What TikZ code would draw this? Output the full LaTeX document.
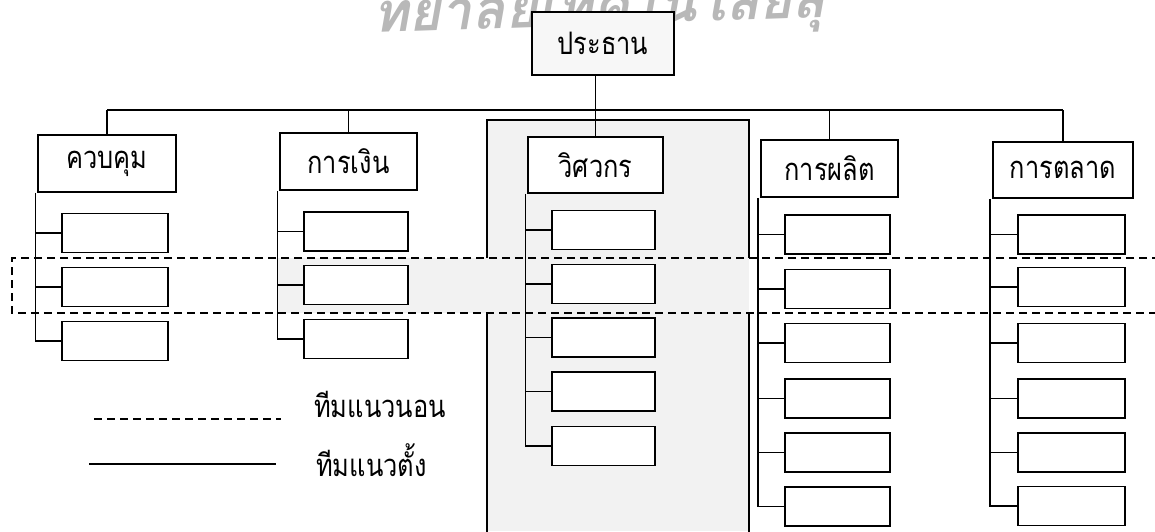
\documentclass[tikz,border=0pt]{standalone}
\usepackage{fontspec}
\newfontfamily\thaifont[Script=Thai, FakeStretch=0.82]{Loma}
\newfontfamily\wmfont[Script=Thai]{Loma}
\newcommand\thlabel{\thaifont\fontsize{31}{34}\selectfont}
\begin{document}
\begin{tikzpicture}[x=1pt,y=-1pt,
  headbox/.style={draw, line width=1.8pt, fill=white, inner sep=0pt, minimum height=57pt, font=\thlabel},
  subbox/.style={draw, line width=1.8pt, fill=white, inner sep=0pt, minimum height=39pt},
  link/.style={line width=1.4pt},
  vteam/.style={line width=1.5pt},
  hteam/.style={line width=1.3pt, dash pattern=on 8pt off 5pt},
  shade/.style={fill=black!5},
  legendtext/.style={font=\thlabel, anchor=base west, inner sep=0pt}]
\useasboundingbox (0,0) rectangle (1155,531);
% watermark
\begin{scope}
\clip (0,0) rectangle (1155,531);
\node[anchor=base west, inner sep=0pt, rotate=2, text=black!28, font=\wmfont\bfseries\itshape\fontsize{55}{60}\selectfont] (wm) at (373,33) {ทยาลัยเทคโนโลยีสุ};
\end{scope}
% shaded team areas
\fill[shade] (487,120) rectangle (749,531);
\fill[shade] (277,258) rectangle (487,313);
% vertical team frame
\draw[vteam] (487,258) -- (487,120) -- (749,120) -- (749,258);
\draw[vteam] (487,313) -- (487,535);
\draw[vteam] (749,313) -- (749,535);
% horizontal team (dashed)
\draw[hteam] (1160,258) -- (12,258) -- (12,313) -- (1160,313);
% head nodes
\node[headbox, minimum width=142pt, minimum height=63pt, fill=black!3] (pres) at (603,43.5) {ประธาน};
\node[headbox, minimum width=138pt] (ctrl) at (107,163.5) {ควบคุม};
\node[headbox, minimum width=137pt] (fin) at (348.5,161.5) {การเงิน};
\node[headbox, minimum width=135pt, minimum height=56pt] (eng) at (595.5,165) {วิศวกร};
\node[headbox, minimum width=137pt] (prod) at (829.5,168.5) {การผลิต};
\node[headbox, minimum width=140pt, minimum height=56pt] (mkt) at (1063,170) {การตลาด};
% sub boxes
\foreach \y [count=\i] in {233,287,341}
  \node[subbox, minimum width=106pt] (ctrl\i) at (115,\y) {};
\foreach \y [count=\i] in {231.5,285,339}
  \node[subbox, minimum width=104pt] (fin\i) at (356,\y) {};
\foreach \y [count=\i] in {230,284,337.5,391.5,446}
  \node[subbox, minimum width=103pt] (eng\i) at (603.5,\y) {};
\foreach \y [count=\i] in {234.5,289,343,398.5,452.5,506.5}
  \node[subbox, minimum width=105pt] (prod\i) at (837.5,\y) {};
\foreach \y [count=\i] in {234.5,287,343,398.5,452.5,506}
  \node[subbox, minimum width=107pt] (mkt\i) at (1071.5,\y) {};
% bus
\coordinate (bus) at (0,110);
\draw[link] (ctrl.north |- bus) -- (mkt.north |- bus);
\foreach \n in {ctrl,fin,prod,mkt}
  \draw[link] (\n.north) -- (\n.north |- bus);
\draw[link] (eng.north) -- (eng.north |- pres.south);
% sub lines
\coordinate (ctrlsub) at ([xshift=-1.5pt]ctrl.south west);
\coordinate (finsub) at ([xshift=-1.5pt]fin.south west);
\coordinate (engsub) at ([xshift=-1.5pt]eng.south west);
\coordinate (prodsub) at ([xshift=-2pt]prod.south west);
\coordinate (mktsub) at ([xshift=-2pt]mkt.south west);
\draw[link] (ctrlsub) |- (ctrl3.west);
\foreach \i in {1,2} \draw[link] (ctrl\i.west) -- (ctrl\i.west -| ctrlsub);
\draw[link] (finsub) |- (fin3.west);
\foreach \i in {1,2} \draw[link] (fin\i.west) -- (fin\i.west -| finsub);
\draw[link] (engsub) |- (eng5.west);
\foreach \i in {1,...,4} \draw[link] (eng\i.west) -- (eng\i.west -| engsub);
\draw[link] (prodsub) |- (prod6.west);
\foreach \i in {1,...,5} \draw[link] (prod\i.west) -- (prod\i.west -| prodsub);
\draw[link] (mktsub) |- (mkt6.west);
\foreach \i in {1,...,5} \draw[link] (mkt\i.west) -- (mkt\i.west -| mktsub);
% legend
\coordinate (lgda) at (94,419);
\coordinate (lgdb) at (281,419);
\coordinate (lgsa) at (89,464);
\coordinate (lgsb) at (276,464);
\draw[hteam] (lgda) -- (lgdb);
\draw[link] (lgsa) -- (lgsb);
\node[legendtext] (lgdt) at (314,417) {ทีมแนวนอน};
\node[legendtext] (lgst) at (316,476) {ทีมแนวตั้ง};
\end{tikzpicture}
\end{document}
